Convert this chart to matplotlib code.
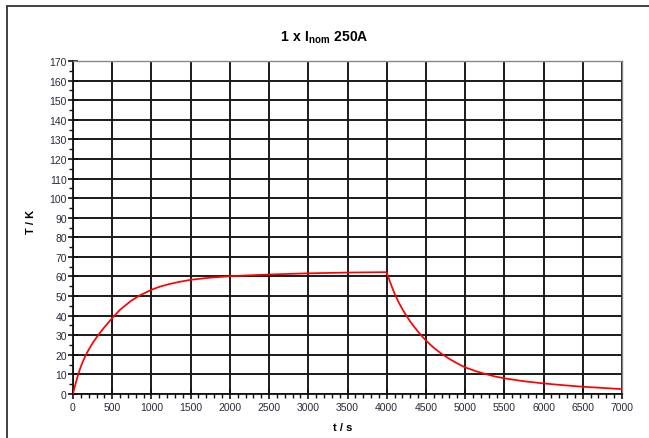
import matplotlib
matplotlib.use("Agg")
import matplotlib.pyplot as plt
from matplotlib.patches import Rectangle
from matplotlib.ticker import MultipleLocator

plt.rcParams['font.family'] = ['Liberation Sans', 'DejaVu Sans']
plt.rcParams['mathtext.fontset'] = 'custom'
plt.rcParams['mathtext.bf'] = 'Liberation Sans:bold'
plt.rcParams['mathtext.rm'] = 'Liberation Sans'

time_s = [0, 10, 25, 45, 70, 100, 130, 165, 200, 260, 330, 390, 450, 500, 600, 735, 850,
          1000, 1100, 1215, 1350, 1500, 1750, 2000, 2250, 2500, 3000, 3500, 3990,
          4000, 4010, 4025, 4045, 4070, 4100, 4150, 4200, 4250, 4300, 4350, 4400, 4450,
          4500, 4600, 4700, 4800, 4900, 5000, 5125, 5250, 5375, 5500, 5750, 6000, 6250,
          6500, 6750, 7000]
temp_k = [0, 1.8, 4.0, 7.0, 10.5, 14.0, 17.0, 20.0, 22.6, 26.6, 30.5, 33.6, 36.4, 38.8, 43.0,
          47.4, 50.3, 53.2, 54.7, 56.0, 57.2, 58.3, 59.4, 60.1, 60.6, 61.0, 61.6, 62.0, 62.2,
          62.0, 60.8, 59.2, 57.0, 54.3, 51.3, 47.0, 43.3, 40.0, 37.0, 34.3, 31.8, 29.5,
          27.3, 23.6, 20.5, 17.9, 15.6, 13.6, 11.8, 10.3, 9.0, 8.0, 6.5, 5.4, 4.5,
          3.7, 3.1, 2.5]

W, H = 649, 439
fig = plt.figure(figsize=(W / 100, H / 100), dpi=100)

# outer frame of the exported chart
fig.patches.append(Rectangle((7 / W, -0.05), 1.1, 1 - 7 / H + 0.05, transform=fig.transFigure,
                             fill=False, edgecolor='#333333', linewidth=1.3))

ax = fig.add_axes([73 / W, 1 - 395 / H, (622 - 73) / W, (395 - 62) / H])
ax.plot(time_s, temp_k, color='red', linewidth=1.25, zorder=3)

ax.set_xlim(0, 7000)
ax.set_ylim(0, 170)
ax.xaxis.set_major_locator(MultipleLocator(500))
ax.xaxis.set_minor_locator(MultipleLocator(100))
ax.yaxis.set_major_locator(MultipleLocator(10))
ax.yaxis.set_minor_locator(MultipleLocator(5))

ax.grid(True, which='major', color='#1a1a1a', linewidth=1.4)
ax.set_axisbelow(True)
ax.tick_params(which='major', direction='inout', length=7, width=1.2, labelsize=7.5,
               colors='#111111', labelcolor='#2a2a3a', pad=2)
ax.tick_params(which='minor', direction='out', length=3, width=1.0, colors='#111111')
ax.tick_params(axis='y', pad=1)

for side in ['left', 'bottom']:
    ax.spines[side].set_color('#111111')
    ax.spines[side].set_linewidth(1.3)
for side in ['top', 'right']:
    ax.spines[side].set_color('#888888')
    ax.spines[side].set_linewidth(1.0)

fig.text(0.5, 1 - 38 / H, r'$\mathbf{1\ x\ I_{nom}\ 250A}$', ha='center', va='center', fontsize=10)
fig.text(343 / W, 1 - 428 / H, 't / s', ha='center', va='center', fontsize=8, fontweight='bold')
fig.text(31 / W, 1 - 222 / H, 'T / K', ha='center', va='center', fontsize=8,
         fontweight='bold', rotation=90)

fig.savefig('out.png', dpi=100)
